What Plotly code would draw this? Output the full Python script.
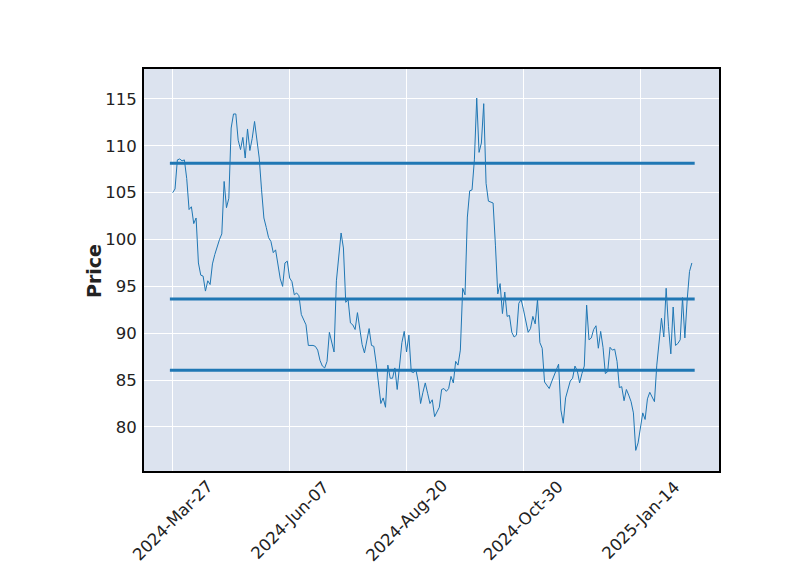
import plotly.graph_objects as go

# Closing prices (one per trading day, starting 2024-03-27)
prices = [
    105.0, 105.4, 108.5, 108.6, 108.4, 108.5, 106.5, 103.2, 103.5, 101.7,
    102.3, 97.5, 96.2, 96.1, 94.5, 95.6, 95.2, 97.4, 98.4, 99.3,
    100.0, 100.6, 106.2, 103.4, 104.4, 111.9, 113.4, 113.4, 110.6, 109.6,
    110.9, 108.7, 111.8, 109.5, 110.8, 112.6, 110.6, 108.7, 105.3, 102.3,
    101.3, 100.2, 99.8, 98.6, 98.9, 97.4, 95.8, 95.0, 97.5, 97.7,
    95.9, 95.5, 94.1, 94.3, 94.0, 92.0, 91.4, 90.9, 88.7, 88.7,
    88.7, 88.6, 88.2, 87.1, 86.5, 86.3, 87.0, 90.1, 89.1, 88.0,
    95.6, 98.2, 100.7, 99.1, 93.3, 93.6, 91.1, 90.9, 90.4, 92.2,
    90.4, 88.8, 87.9, 89.2, 90.5, 88.7, 88.6, 86.8, 84.7, 82.5,
    83.1, 82.1, 86.6, 85.2, 85.2, 86.3, 84.0, 86.2, 89.0, 90.2,
    88.0, 89.8, 85.9, 85.8, 86.1, 84.8, 82.5, 83.7, 84.7, 83.6,
    82.5, 82.9, 81.1, 81.6, 82.1, 84.0, 84.1, 83.8, 84.1, 85.4,
    84.7, 87.0, 86.6, 88.2, 94.8, 94.1, 102.4, 105.2, 105.3, 108.5,
    115.1, 109.3, 110.3, 114.5, 106.0, 104.1, 104.0, 103.9, 99.4, 94.2,
    95.3, 92.1, 94.4, 91.8, 91.9, 90.1, 89.6, 89.8, 93.2, 93.6,
    92.5, 91.3, 90.1, 90.5, 91.8, 91.0, 93.6, 89.0, 88.4, 84.8,
    84.5, 84.1, 84.8, 85.5, 86.1, 86.7, 81.8, 80.4, 83.1, 84.0,
    84.9, 85.2, 86.5, 86.0, 84.7, 85.7, 86.5, 93.0, 89.3, 89.5,
    90.4, 90.8, 88.4, 90.2, 88.5, 85.7, 85.9, 88.5, 88.2, 88.3,
    87.0, 84.2, 84.3, 82.8, 84.0, 83.4, 82.7, 81.5, 77.5, 78.3,
    79.7, 81.5, 80.8, 83.0, 83.7, 83.1, 82.7, 86.6, 89.3, 91.6,
    89.6, 94.8, 90.7, 87.8, 92.8, 88.7, 88.9, 89.3, 93.8, 89.5,
    93.6, 96.6, 97.5,
]

# Horizontal reference levels
hline_levels = [108.15, 93.65, 86.05]

# X tick labels (every 50 trading days)
tick_positions = [0, 50, 100, 150, 200]
tick_labels = ["2024-Mar-27", "2024-Jun-07", "2024-Aug-20", "2024-Oct-30", "2025-Jan-14"]
y_label = "Price"

color = "#1f77b4"
n = len(prices)
xs = list(range(n))

fig = go.Figure()
fig.add_trace(go.Scatter(x=xs, y=prices, mode="lines",
                         line=dict(color=color, width=1), showlegend=False))
for lvl in hline_levels:
    fig.add_trace(go.Scatter(x=[-1.2, n - 1 + 1.2], y=[lvl, lvl], mode="lines",
                             line=dict(color=color, width=3), showlegend=False))

font_family = "DejaVu Sans"
for pos, lab in zip(tick_positions, tick_labels):
    fig.add_annotation(x=pos, y=-0.122, xref="x", yref="paper", text=lab,
                       showarrow=False, textangle=-45, xanchor="center", yanchor="middle",
                       font=dict(family=font_family, size=16.5, color="#222222"))

fig.add_annotation(x=-0.087, y=0.4975, xref="paper", yref="paper", text="<b>" + y_label + "</b>",
                   showarrow=False, textangle=-90, xanchor="center", yanchor="middle",
                   font=dict(family=font_family, size=19, color="#222222"))

fig.update_layout(
    width=800, height=575,
    margin=dict(l=144, r=81, t=69, b=104),
    paper_bgcolor="white",
    plot_bgcolor="#DCE3EF",
    font=dict(family=font_family, size=16.5, color="#222222"),
    showlegend=False,
)
fig.update_xaxes(
    range=[-12.27, 233.6],
    tickvals=tick_positions, ticktext=[""] * len(tick_positions),
    showgrid=True, gridcolor="white", gridwidth=1,
    showline=True, linecolor="black", linewidth=2, mirror=True,
    ticks="", zeroline=False,
)
fig.update_yaxes(
    range=[75.30, 118.20],
    tickvals=[80, 85, 90, 95, 100, 105, 110, 115],
    showgrid=True, gridcolor="white", gridwidth=1,
    showline=True, linecolor="black", linewidth=2, mirror=True,
    ticks="", ticklabelstandoff=2, zeroline=False,
)

fig.write_html("out.html")
